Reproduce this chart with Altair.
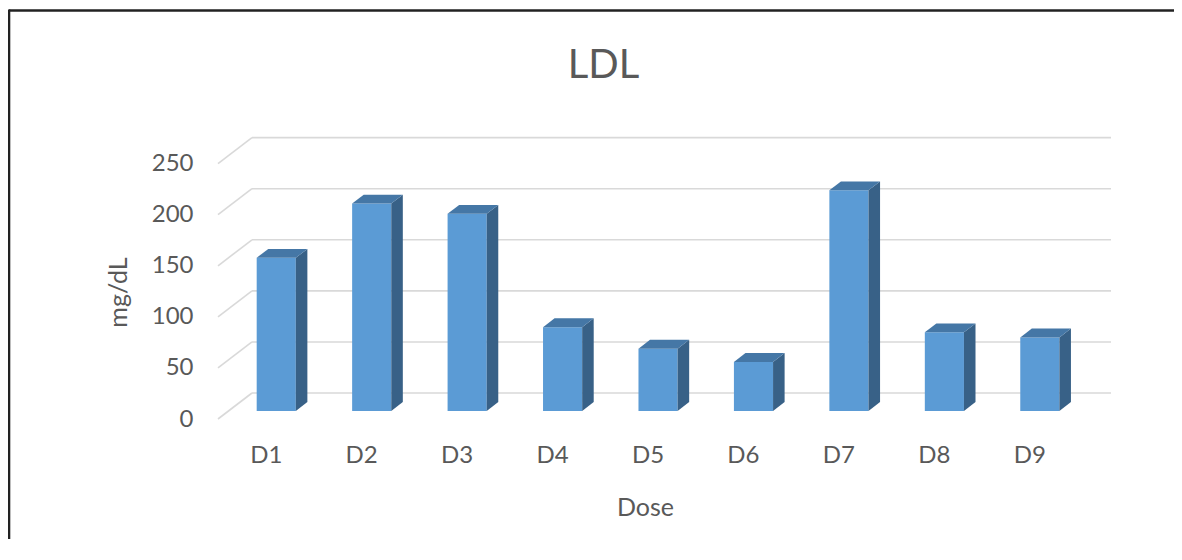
import altair as alt
import pandas as pd

# ---- data ----
categories = ["D1", "D2", "D3", "D4", "D5", "D6", "D7", "D8", "D9"]
ldl_values = [150, 203, 193, 82, 61, 48, 216, 77, 72]
y_ticks = [0, 50, 100, 150, 200, 250]

# ---- pseudo-3D geometry (in data units) ----
N = len(categories)
DX = 0.356            # floor depth along x (category units)
DY = 25.45            # floor depth along y (value units)
F1, F2 = 0.31, 0.65   # depth fraction of bar front / back faces
BW = 0.41             # bar width (category units)
XMAX = N + DX
YMAX = 280

b1x, b2x = F1 * DX, F2 * DX
b1y, b2y = F1 * DY, F2 * DY

front_rows, side_rows, top_rows = [], [], []
for i, (c, v) in enumerate(zip(categories, ldl_values)):
    xl = i + 0.5 - BW / 2 + b1x
    xr = xl + BW
    front_rows.append(dict(cat=c, value=v, x0=xl, x1=xr, y0=b1y, y1=v + b1y))
    side_rows.append(dict(cat=c, x=xr, ytop=v + b1y, ybot=b1y))
    side_rows.append(dict(cat=c, x=xr + (b2x - b1x), ytop=v + b2y, ybot=b2y))
    top_rows.append(dict(cat=c, y=v + b1y, xa=xl, xb=xr))
    top_rows.append(dict(cat=c, y=v + b2y, xa=xl + (b2x - b1x), xb=xr + (b2x - b1x)))

front_df = pd.DataFrame(front_rows)
side_df = pd.DataFrame(side_rows)
top_df = pd.DataFrame(top_rows)

back_grid = pd.DataFrame({"gx0": [DX] * len(y_ticks), "gx1": [XMAX] * len(y_ticks),
                          "gy": [t + DY for t in y_ticks]})
wall_grid = pd.DataFrame({"wx0": [0.0] * len(y_ticks), "wx1": [DX] * len(y_ticks),
                          "wy0": y_ticks, "wy1": [t + DY for t in y_ticks]})

FONT = "Lato"
TXT = "#595959"
GRID = "#D9D9D9"

xs = alt.Scale(domain=[0, XMAX], nice=False, zero=False)
ys = alt.Scale(domain=[0, YMAX], nice=False, zero=False)

x_axis = alt.Axis(values=[i + 0.5 for i in range(N)],
                  labelExpr="'D' + (floor(datum.value) + 1)",
                  domain=False, ticks=False, tickSize=0, grid=False,
                  labelPadding=24, labelFontSize=24, labelColor=TXT, labelFont=FONT,
                  title="Dose", titleFontSize=25, titleColor=TXT, titleFont=FONT,
                  titleFontWeight="normal", titleX=427, titleY=88,
                  titleAlign="center", titleBaseline="middle")
y_axis = alt.Axis(values=y_ticks, domain=False, ticks=False, tickSize=0, grid=False,
                  labelPadding=25, labelFontSize=24, labelColor=TXT, labelFont=FONT,
                  title="mg/dL", titleFontSize=25, titleColor=TXT, titleFont=FONT,
                  titleFontWeight="normal", titleX=-100, titleY=159, titleAngle=-90,
                  titleAlign="center", titleBaseline="middle")

grid_back = alt.Chart(back_grid).mark_rule(color=GRID, strokeWidth=1.6).encode(
    x=alt.X("gx0:Q", scale=xs, axis=x_axis), x2="gx1:Q",
    y=alt.Y("gy:Q", scale=ys, axis=y_axis))
grid_wall = alt.Chart(wall_grid).mark_rule(color=GRID, strokeWidth=1.6).encode(
    x=alt.X("wx0:Q", scale=xs, axis=x_axis), x2="wx1:Q",
    y=alt.Y("wy0:Q", scale=ys, axis=y_axis), y2="wy1:Q")

front = alt.Chart(front_df).mark_rect(color="#5B9BD5").encode(
    x=alt.X("x0:Q", scale=xs, axis=x_axis), x2="x1:Q",
    y=alt.Y("y0:Q", scale=ys, axis=y_axis), y2="y1:Q",
    tooltip=["cat:N", "value:Q"])
side = alt.Chart(side_df).mark_area(color="#386187", interpolate="linear").encode(
    x=alt.X("x:Q", scale=xs, axis=x_axis),
    y=alt.Y("ytop:Q", scale=ys, axis=y_axis), y2="ybot:Q",
    detail="cat:N")
top = alt.Chart(top_df).mark_area(color="#4577A6", orient="horizontal").encode(
    y=alt.Y("y:Q", scale=ys, axis=y_axis),
    x=alt.X("xa:Q", scale=xs, axis=x_axis), x2="xb:Q",
    detail="cat:N")

one = pd.DataFrame({"k": [0]})
border_top = alt.Chart(one).mark_rule(color="#222222", strokeWidth=2.6).encode(
    x=alt.value(-209), x2=alt.value(970), y=alt.value(-122.5))
border_left = alt.Chart(one).mark_rule(color="#222222", strokeWidth=2.6).encode(
    x=alt.value(-209), y=alt.value(-123.5), y2=alt.value(430))

chart = alt.layer(grid_back, grid_wall, front, side, top, border_top, border_left).properties(
    width=893, height=286,
    autosize=alt.AutoSizeParams(type="none"),
    padding={"left": 210, "top": 125, "right": 63, "bottom": 120},
    background="white",
    title=alt.TitleParams("LDL", fontSize=40, color=TXT, font=FONT, fontWeight="normal",
                          anchor="middle", frame="group", dx=-61, offset=-110,
                          baseline="alphabetic"),
).configure_view(stroke=None)

chart.save("out.html", embed_options={"renderer": "svg", "actions": False})
